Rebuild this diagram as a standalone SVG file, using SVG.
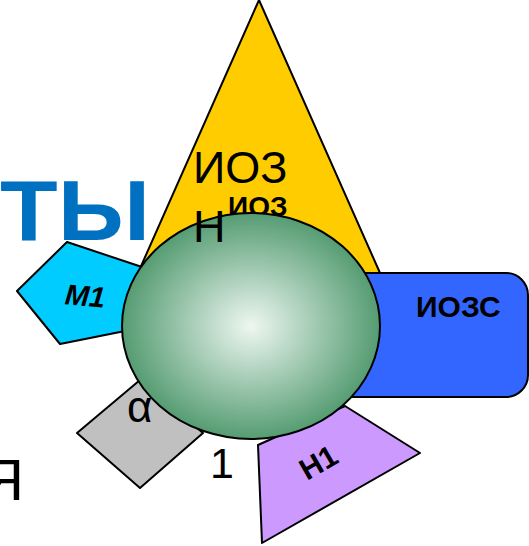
<svg xmlns="http://www.w3.org/2000/svg" width="529" height="546" viewBox="0 0 529 546">
<defs>
<radialGradient id="g" cx="0.5" cy="0.5" r="0.5">
<stop offset="0" stop-color="#eef7f1"/>
<stop offset="1" stop-color="#559c72"/>
</radialGradient>
</defs>
<style>
.s{stroke:#000;stroke-width:2;stroke-linejoin:round}
.t{font-family:"Liberation Sans",Arial,sans-serif;fill:#000}
.b{font-weight:bold}
</style>
<rect width="529" height="546" fill="#fff"/>
<g id="bg-text">
<text class="t b" x="0" y="240" font-size="85" textLength="150" lengthAdjust="spacingAndGlyphs" style="fill:#0070c0">ТЫ</text>
<text class="t" x="24" y="500" font-size="58" text-anchor="end">Я</text>
</g>
<g id="connectors"></g>
<g id="triangle">
<polygon class="s" points="259,0 384,282 134,282" fill="#ffcc00"/>
<text class="t b" x="228" y="216" font-size="28">ИОЗ</text>
</g>
<g id="iozs">
<rect class="s" x="300" y="273" width="228" height="124" rx="22" fill="#3366ff"/>
<text class="t b" x="416" y="317" font-size="30">ИОЗС</text>
</g>
<g id="m1">
<polygon class="s" points="67,242 145,268 140,328 60,344 17,291" fill="#00ccff"/>
<text class="t b" x="65" y="306" font-size="29" font-style="italic" transform="rotate(5 85 296)">M1</text>
</g>
<g id="alpha">
<polygon class="s" points="140,380 203,433 140,488 77,433" fill="#c0c0c0"/>
</g>
<g id="h1">
<polygon class="s" points="258,445 345,406 420,453 262,543" fill="#cc99ff"/>
<text class="t b" x="318" y="473" font-size="30" text-anchor="middle" transform="rotate(-30 318 462)">H1</text>
</g>
<g id="circle">
<ellipse class="s" cx="251" cy="326" rx="129" ry="113" fill="url(#g)"/>
</g>
<g id="labels">
<text class="t" x="193" y="183" font-size="45">ИОЗ</text>
<text class="t" x="193" y="242" font-size="45">Н</text>
<text class="t" x="127" y="422" font-size="44">α</text>
<text class="t" x="210" y="478" font-size="43">1</text>
</g>
</svg>
